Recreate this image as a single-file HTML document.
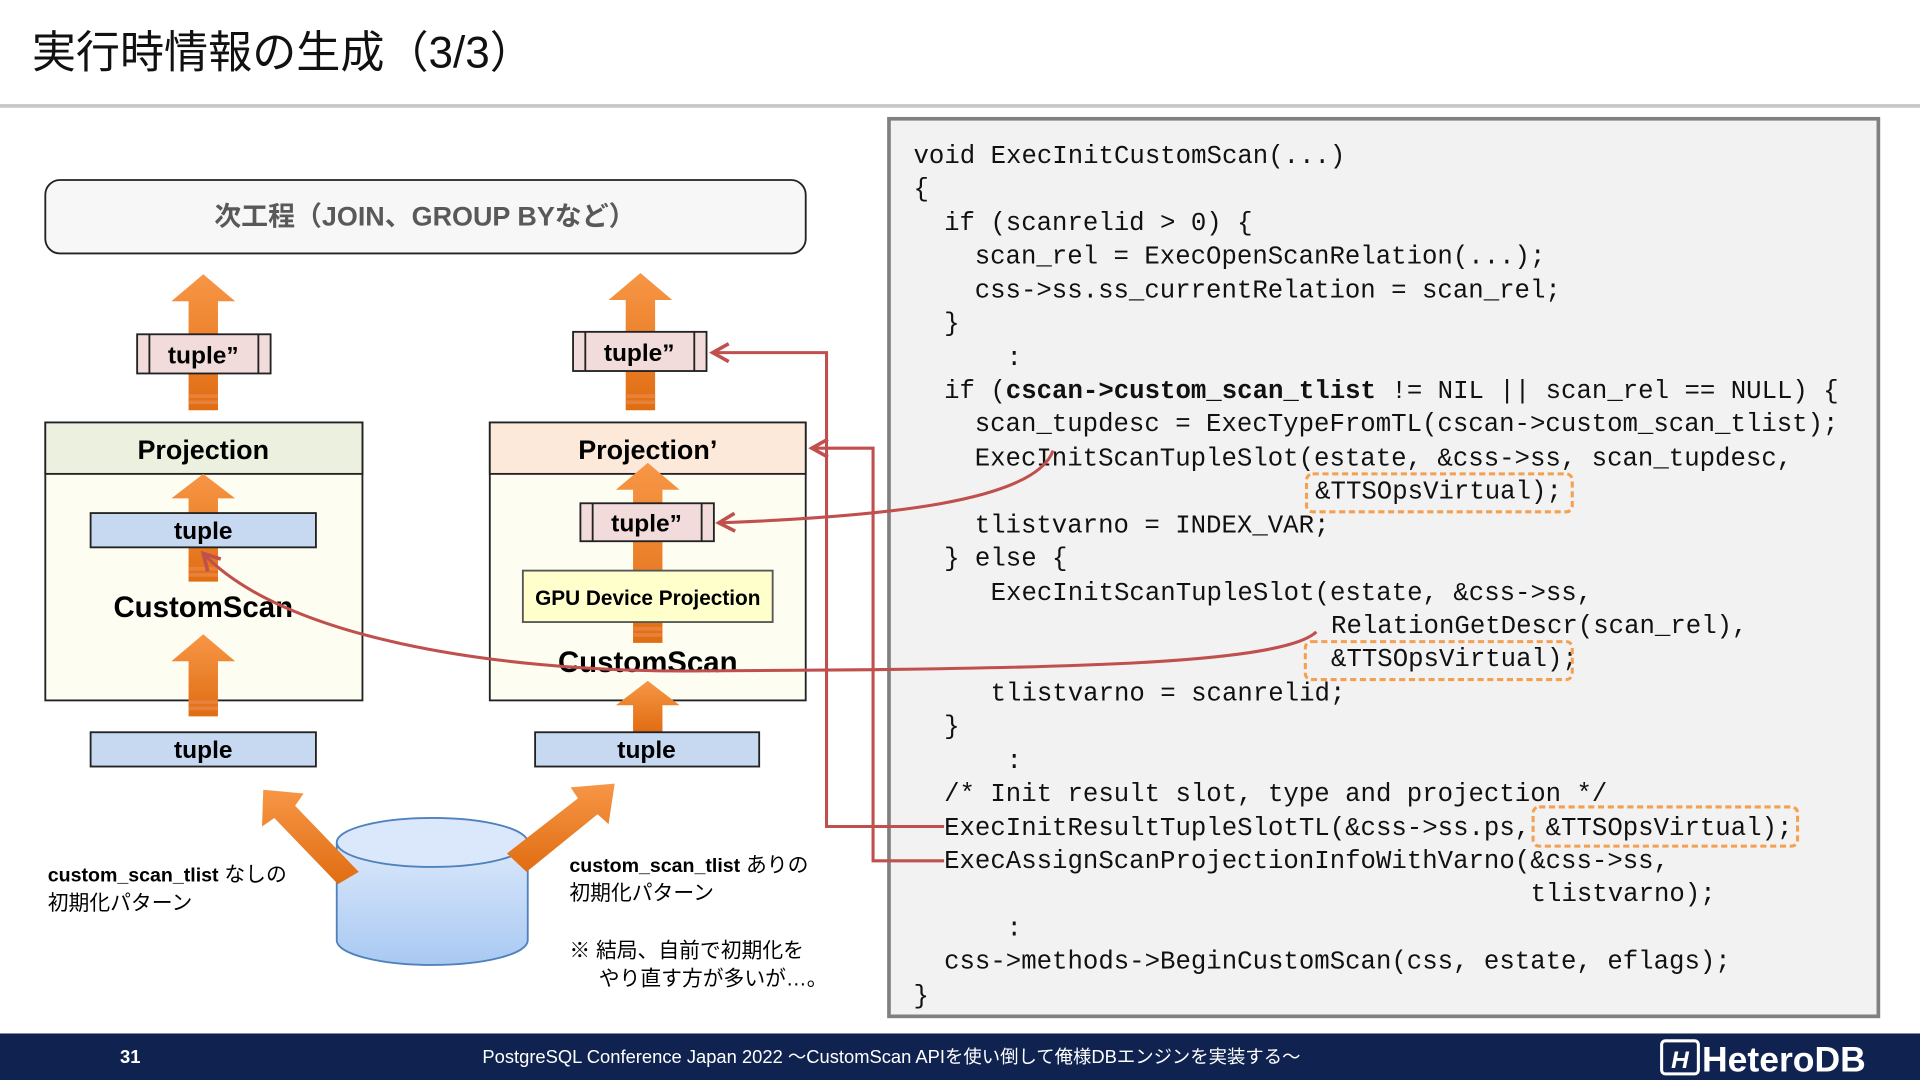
<!DOCTYPE html>
<html><head><meta charset="utf-8"><style>
html,body{margin:0;padding:0;background:#fff;}
svg{display:block}
.code{font-family:"Liberation Mono",monospace;font-size:21px;fill:#111;}
.jp{font-family:"Liberation Sans","Noto Sans CJK JP",sans-serif;}
.b{font-weight:bold}
</style></head><body>
<svg width="1920" height="1080" viewBox="0 0 1568 882" xmlns="http://www.w3.org/2000/svg">
<defs>
<linearGradient id="og" x1="0" y1="0" x2="0" y2="1"><stop offset="0" stop-color="#f79646"/><stop offset="1" stop-color="#e06d12"/></linearGradient>
<linearGradient id="cyl" x1="0" y1="0" x2="0" y2="1"><stop offset="0" stop-color="#dbe8fb"/><stop offset="1" stop-color="#a9c9f2"/></linearGradient>
<marker id="ah" viewBox="0 0 12 12" refX="10" refY="6" markerWidth="7" markerHeight="7" orient="auto" markerUnits="strokeWidth"><path d="M1,1 L10,6 L1,11" fill="none" stroke="#c0504d" stroke-width="2"/></marker>
<g id="stripes"><rect x="-12" y="0" width="24" height="3" fill="#e8823a"/><rect x="-12" y="5" width="24" height="3" fill="#e8823a"/></g>
</defs>

<!-- header -->
<text x="26" y="55" class="jp" font-size="36" fill="#111">実行時情報の生成（3/3）</text>
<rect x="0" y="85" width="1568" height="3" fill="#c8c8c8"/>

<!-- code box -->
<rect x="726" y="97" width="808" height="733" fill="#f2f2f2" stroke="#808080" stroke-width="3"/>
<g class="code">
<text x="746" y="133">void ExecInitCustomScan(...)</text>
<text x="746" y="160">{</text>
<text x="771" y="188">if (scanrelid &gt; 0) {</text>
<text x="796" y="215">scan_rel = ExecOpenScanRelation(...);</text>
<text x="796" y="243">css-&gt;ss.ss_currentRelation = scan_rel;</text>
<text x="771" y="270">}</text>
<text x="822" y="298">:</text>
<text x="771" y="325">if (<tspan font-weight="bold">cscan-&gt;custom_scan_tlist</tspan> != NIL || scan_rel == NULL) {</text>
<text x="796" y="352">scan_tupdesc = ExecTypeFromTL(cscan-&gt;custom_scan_tlist);</text>
<text x="796" y="380">ExecInitScanTupleSlot(estate, &amp;css-&gt;ss, scan_tupdesc,</text>
<text x="1074" y="407">&amp;TTSOpsVirtual);</text>
<text x="796" y="435">tlistvarno = INDEX_VAR;</text>
<text x="771" y="462">} else {</text>
<text x="809" y="490">ExecInitScanTupleSlot(estate, &amp;css-&gt;ss,</text>
<text x="1087" y="517">RelationGetDescr(scan_rel),</text>
<text x="1087" y="544">&amp;TTSOpsVirtual);</text>
<text x="809" y="572">tlistvarno = scanrelid;</text>
<text x="771" y="599">}</text>
<text x="822" y="627">:</text>
<text x="771" y="654">/* Init result slot, type and projection */</text>
<text x="771" y="682">ExecInitResultTupleSlotTL(&amp;css-&gt;ss.ps, &amp;TTSOpsVirtual);</text>
<text x="771" y="709">ExecAssignScanProjectionInfoWithVarno(&amp;css-&gt;ss,</text>
<text x="1250" y="736">tlistvarno);</text>
<text x="822" y="764">:</text>
<text x="771" y="791">css-&gt;methods-&gt;BeginCustomScan(css, estate, eflags);</text>
<text x="746" y="819">}</text>
</g>
<g fill="none" stroke="#f5a050" stroke-width="2.5" stroke-dasharray="5,3">
<rect x="1067" y="387" width="217" height="31" rx="5"/>
<rect x="1066" y="524" width="218" height="31" rx="5"/>
<rect x="1252" y="659" width="216" height="32" rx="5"/>
</g>

<!-- top box -->
<rect x="37" y="147" width="621" height="60" rx="12" fill="#f7f7f7" stroke="#222" stroke-width="1.5"/>
<text x="347" y="184" text-anchor="middle" class="jp b" font-size="22" fill="#595959">次工程（JOIN、GROUP BYなど）</text>

<g fill="url(#og)">
<polygon points="166,224 192,246 178,246 178,335 154,335 154,246 140,246"/>
<polygon points="523,223 549,245 535,245 535,335 511,335 511,245 497,245"/>
</g>
<use href="#stripes" x="166" y="322"/><use href="#stripes" x="523" y="322"/>
<g stroke="#222" stroke-width="1.5" fill="#f2dcdb">
<rect x="112" y="273" width="109" height="32"/><line x1="122" y1="273" x2="122" y2="305"/><line x1="211" y1="273" x2="211" y2="305"/>
<rect x="468" y="271" width="109" height="32"/><line x1="478" y1="271" x2="478" y2="303"/><line x1="567" y1="271" x2="567" y2="303"/>
</g>
<text x="166" y="297" text-anchor="middle" class="jp b" font-size="20">tuple”</text>
<text x="522" y="295" text-anchor="middle" class="jp b" font-size="20">tuple”</text>

<rect x="37" y="345" width="259" height="227" fill="#fdfdf1" stroke="#222" stroke-width="1.5"/>
<rect x="37" y="345" width="259" height="42" fill="#ebf1de" stroke="#222" stroke-width="1.5"/>
<text x="166" y="375" text-anchor="middle" class="jp b" font-size="22">Projection</text>
<rect x="400" y="345" width="258" height="227" fill="#fdfdf1" stroke="#222" stroke-width="1.5"/>
<rect x="400" y="345" width="258" height="42" fill="#fde9d9" stroke="#222" stroke-width="1.5"/>
<text x="529" y="375" text-anchor="middle" class="jp b" font-size="22">Projection’</text>

<g fill="url(#og)">
<polygon points="166,387 192,407 178,407 178,475 154,475 154,407 140,407"/>
<polygon points="166,518 192,540 178,540 178,585 154,585 154,540 140,540"/>
<polygon points="529,378 555,400 541,400 541,525 517,525 517,400 503,400"/>
<polygon points="529,556 555,576 541,576 541,598 517,598 517,576 503,576"/>
</g>
<use href="#stripes" x="166" y="463"/><use href="#stripes" x="166" y="572"/><use href="#stripes" x="529" y="512"/>
<rect x="74" y="419" width="184" height="28" fill="#c6d9f1" stroke="#222" stroke-width="1.5"/>
<text x="166" y="440" text-anchor="middle" class="jp b" font-size="20">tuple</text>
<text x="166" y="504" text-anchor="middle" class="jp b" font-size="24">CustomScan</text>
<g stroke="#222" stroke-width="1.5" fill="#f2dcdb">
<rect x="474" y="411" width="109" height="31"/><line x1="484" y1="411" x2="484" y2="442"/><line x1="573" y1="411" x2="573" y2="442"/>
</g>
<text x="528" y="434" text-anchor="middle" class="jp b" font-size="20">tuple”</text>
<rect x="427" y="466" width="204" height="42" fill="#ffffcc" stroke="#555" stroke-width="1.5"/>
<text x="529" y="494" text-anchor="middle" class="jp b" font-size="17">GPU Device Projection</text>
<text x="529" y="549" text-anchor="middle" class="jp b" font-size="24">CustomScan</text>

<rect x="74" y="598" width="184" height="28" fill="#c6d9f1" stroke="#222" stroke-width="1.5"/>
<text x="166" y="619" text-anchor="middle" class="jp b" font-size="20">tuple</text>
<rect x="437" y="598" width="183" height="28" fill="#c6d9f1" stroke="#222" stroke-width="1.5"/>
<text x="528" y="619" text-anchor="middle" class="jp b" font-size="20">tuple</text>

<path d="M275,688 L275,768 A78,20 0 0 0 431,768 L431,688" fill="url(#cyl)" stroke="#4f81bd" stroke-width="1.5"/>
<ellipse cx="353" cy="688" rx="78" ry="20" fill="#dbe8fb" stroke="#4f81bd" stroke-width="1.5"/>
<g fill="url(#og)">
<polygon points="215,645 248,648 241,658 293,712 276,722 224,668 214,675"/>
<polygon points="502,640 497,673 488,665 430,712 414,697 472,652 466,643"/>
</g>

<text x="39" y="720" class="jp" font-size="17"><tspan font-weight="bold" font-size="16">custom_scan_tlist</tspan> なしの</text>
<text x="39" y="743" class="jp" font-size="17">初期化パターン</text>
<text x="465" y="712" class="jp" font-size="17"><tspan font-weight="bold" font-size="16">custom_scan_tlist</tspan> ありの</text>
<text x="465" y="735" class="jp" font-size="17">初期化パターン</text>
<text x="465" y="782" class="jp" font-size="17">※ 結局、自前で初期化を</text>
<text x="489" y="805" class="jp" font-size="17">やり直す方が多いが…。</text>

<g fill="none" stroke="#c0504d" stroke-width="2.5">
<path d="M771,675 L675,675 L675,288 L582,288" marker-end="url(#ah)"/>
<path d="M771,703 L713,703 L713,366 L663,366" marker-end="url(#ah)"/>
<path d="M860,368 C845,410 720,422 587,427" marker-end="url(#ah)"/>
<path d="M1075,516 C1050,540 900,545 700,547 L560,548 C400,548 230,520 166,452" marker-end="url(#ah)"/>
</g>

<rect x="0" y="844" width="1568" height="38" fill="#102350"/>
<text x="98" y="868" class="jp b" font-size="15" fill="#fff">31</text>
<text x="728" y="868" text-anchor="middle" class="jp" font-size="15" fill="#fff">PostgreSQL Conference Japan 2022 ～CustomScan APIを使い倒して俺様DBエンジンを実装する～</text>
<rect x="1357" y="850" width="30" height="27" fill="none" stroke="#fff" stroke-width="2.5" rx="3"/>
<text x="1372" y="872" text-anchor="middle" class="jp b" font-size="20" fill="#fff" font-style="italic">H</text>
<text x="1390" y="875" class="jp b" font-size="29" fill="#fff">HeteroDB</text>
</svg>
</body></html>
